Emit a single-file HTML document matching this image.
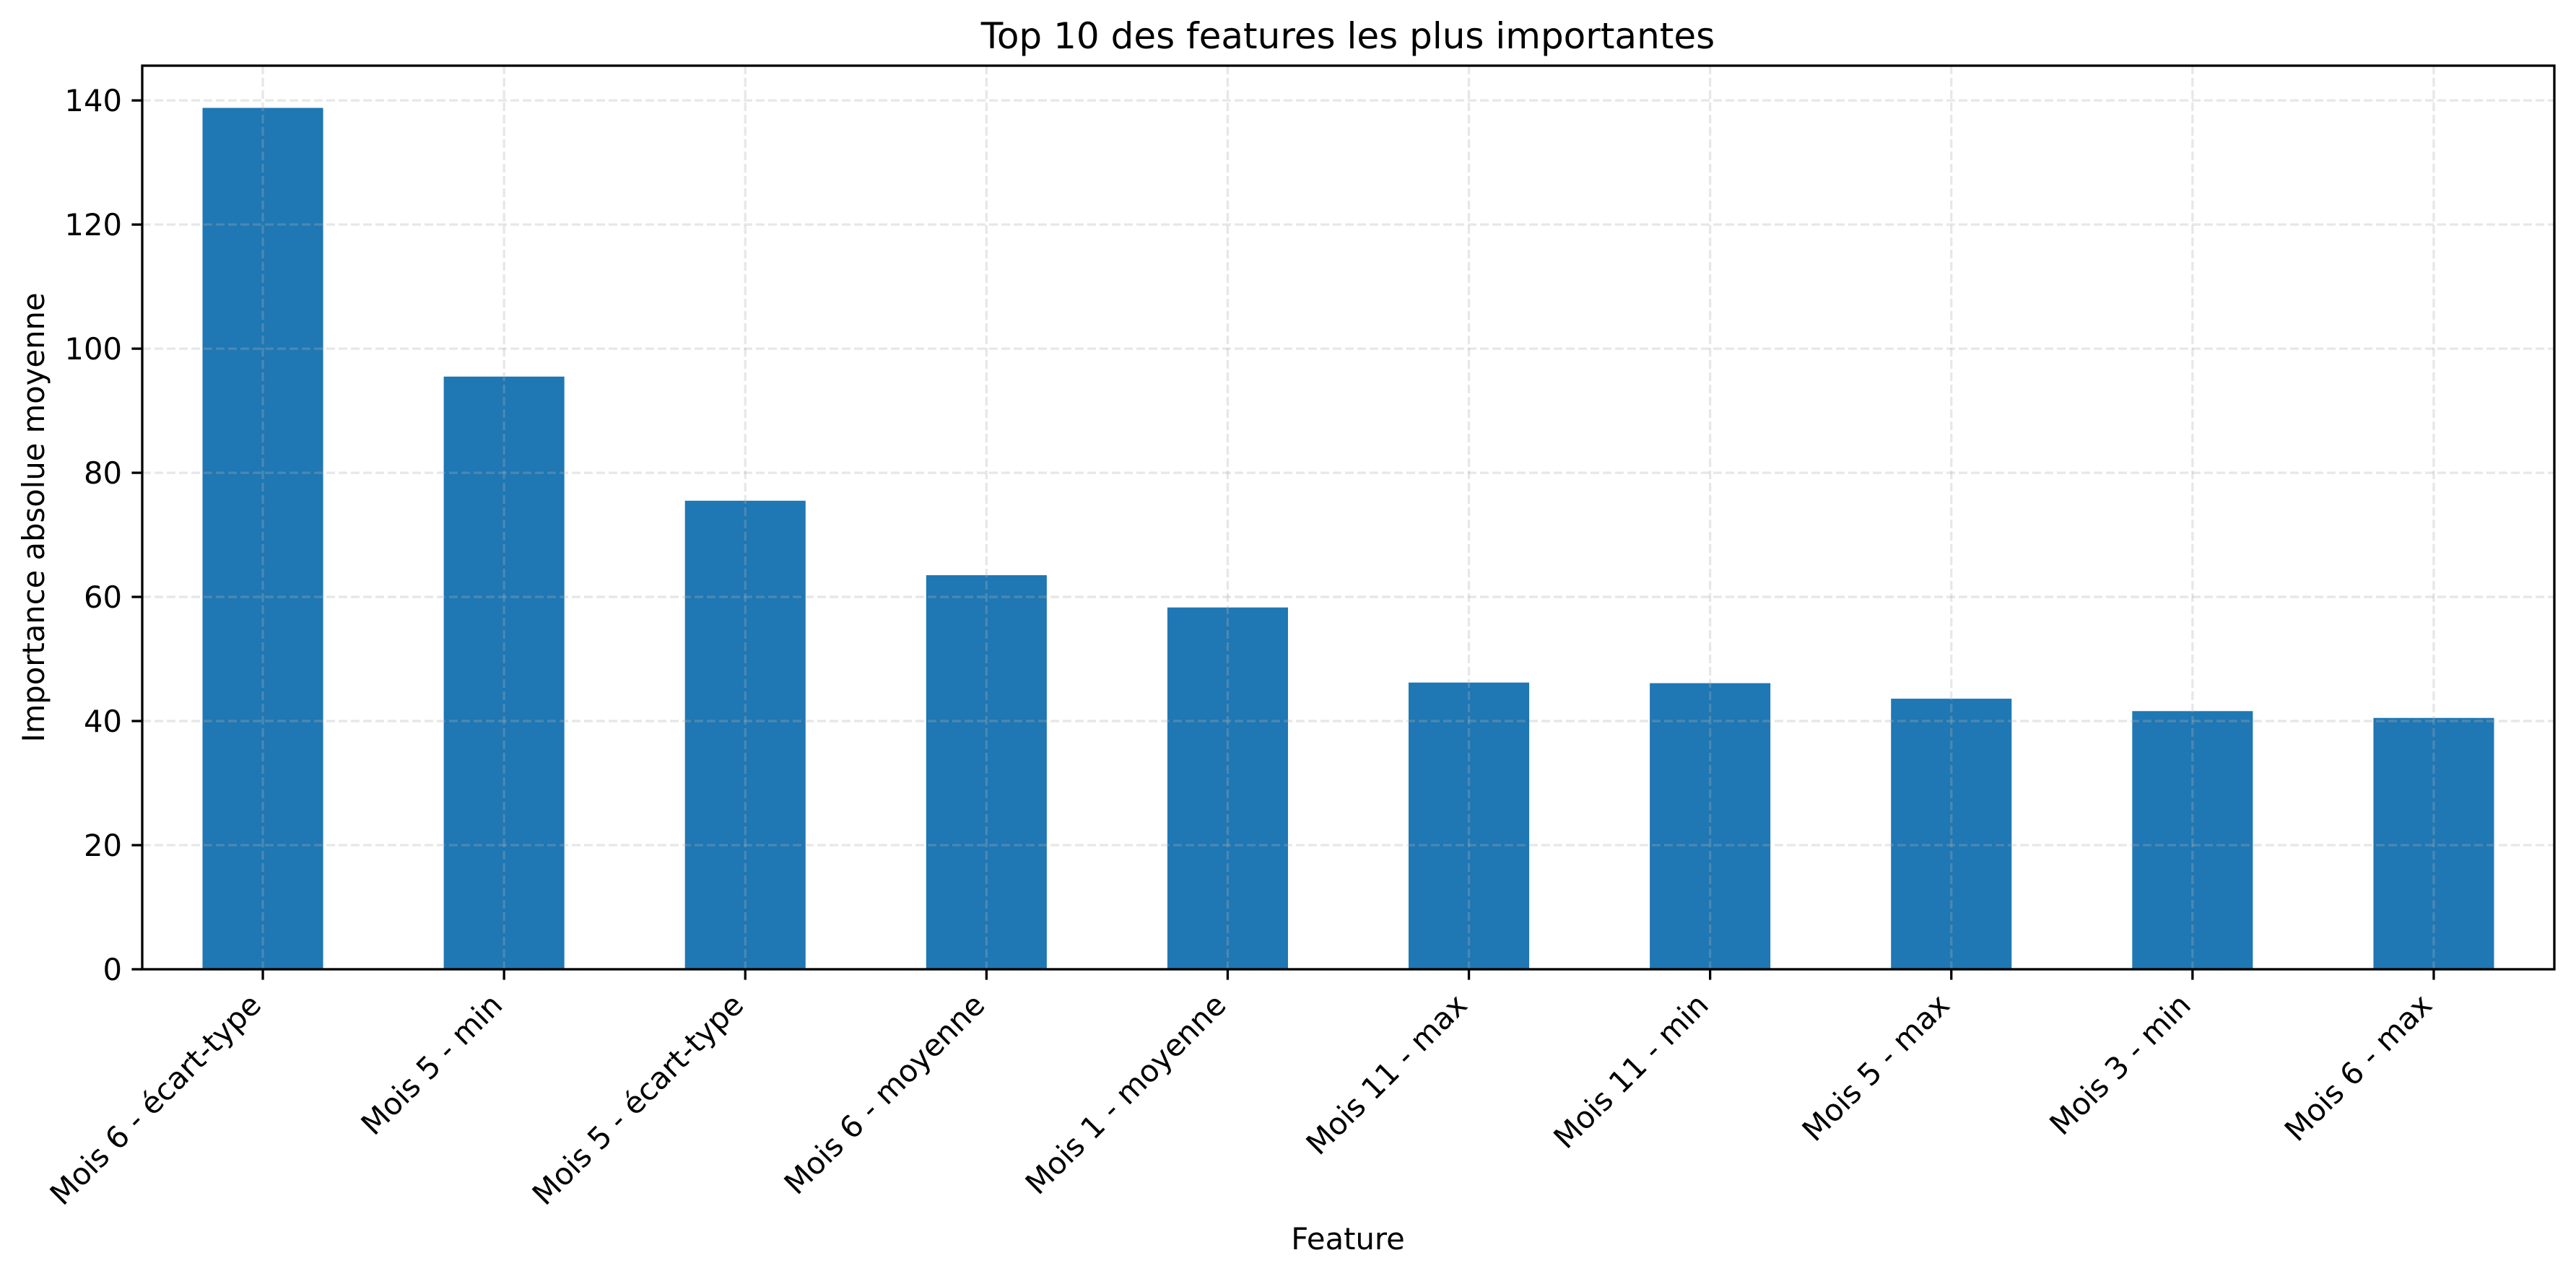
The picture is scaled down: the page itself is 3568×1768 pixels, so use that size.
<!DOCTYPE html>
<html><head><meta charset="utf-8"><style>
html,body{margin:0;padding:0;background:#fff;}
svg{display:block;font-family:"DejaVu Sans","Liberation Sans",sans-serif;}
</style></head><body>
<svg id="chart" width="3568" height="1768" viewBox="0 0 3568 1768">
<rect width="3568" height="1768" fill="#fff"/>
<g id="bars"></g><g id="grid"></g><g id="axes"></g>
<text x="1867" y="67" font-size="50" text-anchor="middle" fill="#000">Top 10 des features les plus importantes</text>
<text x="1867" y="1731" font-size="41.7" text-anchor="middle" fill="#000">Feature</text>
<text x="0" y="0" font-size="41.7" text-anchor="middle" fill="#000" transform="translate(61,717) rotate(-90)">Importance absolue moyenne</text>
</svg>
<script>
const categories = ["Mois 6 - écart-type","Mois 5 - min","Mois 5 - écart-type","Mois 6 - moyenne","Mois 1 - moyenne","Mois 11 - max","Mois 11 - min","Mois 5 - max","Mois 3 - min","Mois 6 - max"];
const values = [138.8,95.5,75.5,63.5,58.3,46.2,46.1,43.6,41.6,40.5];
const yTicks = [0,20,40,60,80,100,120,140];

const L=197,R=3538,T=91,B=1343,YMAX=145.6;
const NS="http://www.w3.org/2000/svg";
const xs=i=>L+(i+0.5)*(R-L)/categories.length;
const ys=v=>B-v/YMAX*(B-T);
const bw=0.5*(R-L)/categories.length;
function mk(tag,attrs,parent){const e=document.createElementNS(NS,tag);for(const k in attrs)e.setAttribute(k,attrs[k]);parent.appendChild(e);return e;}
const gb=document.getElementById('bars'),gg=document.getElementById('grid'),ga=document.getElementById('axes');
values.forEach((v,i)=>{
  const r=mk('rect',{x:xs(i)-bw/2,y:ys(v),width:bw,height:B-ys(v),fill:'#1f77b4'},gb);
  
  
});
yTicks.forEach(t=>{
  const l=mk('line',{x1:L,x2:R,y1:ys(t),y2:ys(t),stroke:'#b0b0b0','stroke-opacity':0.3,'stroke-width':3.3,'stroke-dasharray':'12 5'},gg);
  
  
  const tk=mk('line',{x1:L-14.6,x2:L,y1:ys(t),y2:ys(t),stroke:'#000','stroke-width':3.3},ga);
  
  
  const tx=mk('text',{x:L-28,y:ys(t)+15,'font-size':41.7,'text-anchor':'end',fill:'#000'},ga);
  tx.textContent=t;
  
  
});
categories.forEach((c,i)=>{
  const x=xs(i);
  const l=mk('line',{x1:x,x2:x,y1:T,y2:B,stroke:'#b0b0b0','stroke-opacity':0.3,'stroke-width':3.3,'stroke-dasharray':'12 5'},gg);
  
  
  const tk=mk('line',{x1:x,x2:x,y1:B,y2:B+14.6,stroke:'#000','stroke-width':3.3},ga);
  
  
  const tx=mk('text',{x:0,y:0,'font-size':41.7,'text-anchor':'end',fill:'#000',transform:`translate(${x+0},${B+52}) rotate(-45)`},ga);
  tx.textContent=c;
  
  
});
const fr=mk('rect',{x:L,y:T,width:R-L,height:B-T,fill:'none',stroke:'#000','stroke-width':3.3},ga);


</script>
</body></html>
